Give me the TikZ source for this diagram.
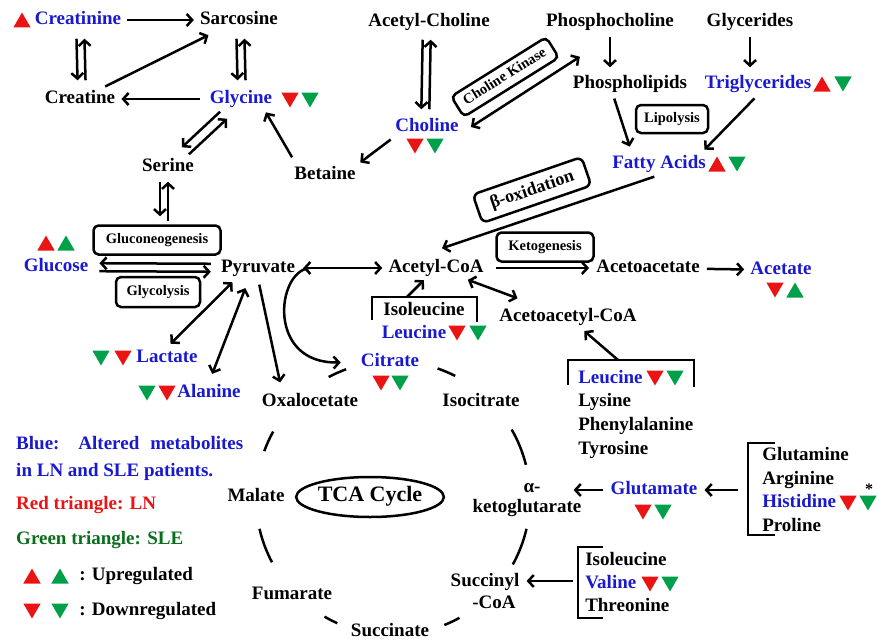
\documentclass[tikz,border=0pt]{standalone}
\usepackage{fontspec}
\setmainfont{Liberation Serif}
\usepackage{tikz}
\usetikzlibrary{arrows.meta, shapes.geometric, calc}
\definecolor{metblue}{RGB}{25,25,205}
\definecolor{trired}{RGB}{235,20,20}
\definecolor{trigreen}{RGB}{0,160,75}
\definecolor{txtgreen}{RGB}{10,110,30}
\tikzset{offs/.style={transform canvas={shift={#1}}}}

\begin{document}
\begin{tikzpicture}[x=1pt, y=1pt, line width=2.5pt, >={Straight Barb[length=5.5pt,width=12pt]}]
\tikzstyle{every node}=[font=\bfseries\fontsize{19}{22}\selectfont, inner sep=1pt, text height=13pt, text depth=4pt]
\tikzstyle{met}=[text=metblue]
\tikzstyle{enz}=[draw, rounded corners=5pt, font=\bfseries\fontsize{14.5}{16}\selectfont, text height=10pt, text depth=3pt, inner sep=2pt]
\tikzstyle{tri}=[regular polygon, regular polygon sides=3, draw=none, minimum size=20pt, inner sep=0pt, text height=0pt, text depth=0pt]
\tikzstyle{upr}=[tri, fill=trired]
\tikzstyle{dnr}=[tri, fill=trired, shape border rotate=180]
\tikzstyle{upg}=[tri, fill=trigreen]
\tikzstyle{dng}=[tri, fill=trigreen, shape border rotate=180]
\tikzstyle{conn}=[->, shorten <=4pt, shorten >=4pt]
\tikzstyle{pair}=[->, shorten <=8pt, shorten >=8pt]
\useasboundingbox (0,0) rectangle (878,-642);

% top: creatinine, glycine, choline
\node[met] (crn) at (78,-20) {Creatinine};
\node[upr] (crnR) at (22,-22.5) {};
\node (sar) at (239,-20) {Sarcosine};
\node (cre) at (80,-99) {Creatine};
\node[met] (gly) at (241,-99) {Glycine};
\node[dnr] (glyR) at (290,-97.5) {};
\node[dng] (glyG) at (310,-97.5) {};
\node (ser) at (168,-167) {Serine};
\node (bet) at (325,-175) {Betaine};
\node (ach) at (429,-22) {Acetyl-Choline};
\node[met] (cho) at (427,-127) {Choline};
\node[dnr] (choR) at (415,-143.5) {};
\node[dng] (choG) at (435,-143.5) {};
\node[enz, rotate=32, minimum width=112pt, minimum height=24pt] (ck) at (505,-77) {Choline Kinase};

% lipids
\node (pch) at (610,-22) {Phosphocholine};
\node (glyd) at (750,-22) {Glycerides};
\node (phl) at (630,-84) {Phospholipids};
\node[met] (tgl) at (758,-84) {Triglycerides};
\node[upr] (tglR) at (822,-86.5) {};
\node[dng] (tglG) at (843,-81.5) {};
\node[enz, minimum width=72pt, minimum height=28pt] (lip) at (672,-119) {Lipolysis};
\node[met] (fa) at (659,-164) {Fatty Acids};
\node[upr] (faR) at (717,-166.5) {};
\node[dng] (faG) at (737,-161.5) {};
\node[enz, rotate=19, font=\bfseries\fontsize{18}{20}\selectfont, text height=13pt, minimum width=115pt, minimum height=30pt, rounded corners=6pt] (box) at (532,-190) {β-oxidation};

% glycolysis row
\node[enz, minimum width=127pt, minimum height=29pt] (gng) at (157,-240) {Gluconeogenesis};
\node[enz, minimum width=84pt, minimum height=30pt] (glyco) at (158,-292) {Glycolysis};
\node[met] (glc) at (56,-267) {Glucose};
\node[upr] (glcR) at (46,-245.5) {};
\node[upg] (glcG) at (66,-245.5) {};
\node (pyr) at (258,-268) {Pyruvate};
\node (acoa) at (436,-268) {Acetyl-CoA};
\node[enz, minimum width=97pt, minimum height=29pt] (keto) at (545,-247) {Ketogenesis};
\node (aca) at (648,-268) {Acetoacetate};
\node[met] (act) at (781,-270) {Acetate};
\node[dnr] (actR) at (775,-287.5) {};
\node[upg] (actG) at (795,-292.5) {};

% amino acids into acetyl-CoA
\node (ile1) at (424,-311) {Isoleucine};
\node[met] (leu1) at (414,-334) {Leucine};
\node[dnr] (leu1R) at (457,-330.5) {};
\node[dng] (leu1G) at (478,-330.5) {};
\node (aacoa) at (568,-317) {Acetoacetyl-CoA};
\node[met, anchor=west] (leu2) at (576,-379) {Leucine};
\node[dnr] (leu2R) at (655,-375.5) {};
\node[dng] (leu2G) at (675,-375.5) {};
\node[anchor=west] (lys) at (576,-402) {Lysine};
\node[anchor=west] (phe) at (576,-426) {Phenylalanine};
\node[anchor=west] (tyr) at (576,-450) {Tyrosine};

% lactate, alanine
\node[met] (lac) at (167,-358) {Lactate};
\node[dng] (lacG) at (101,-355.5) {};
\node[dnr] (lacR) at (123,-355.5) {};
\node[met] (ala) at (209,-393) {Alanine};
\node[dng] (alaG) at (147,-390.5) {};
\node[dnr] (alaR) at (167,-390.5) {};

% TCA cycle
\node (oxa) at (310,-402) {Oxalocetate};
\node[met] (cit) at (390,-362) {Citrate};
\node[dnr] (citR) at (381,-380.5) {};
\node[dng] (citG) at (400,-380.5) {};
\node (icit) at (481,-402) {Isocitrate};
\node (akg1) at (532,-488) {α-};
\node (akg2) at (527,-508) {ketoglutarate};
\node (suc1) at (485,-582) {Succinyl};
\node (suc2) at (494,-604) {-CoA};
\node (scn) at (390,-632) {Succinate};
\node (fum) at (292,-595) {Fumarate};
\node (mal) at (256,-497) {Malate};
\node[ellipse, draw, minimum width=126pt, minimum height=40pt, inner sep=0pt, font=\bfseries\fontsize{22}{24}\selectfont] (tcan) at (370,-497) {TCA Cycle};
\coordinate (tca) at (393,-498);
\foreach \a/\b in {118/110, 71/63, 30/14, -13/-29, -68/-61, -120/-114, -167/-152, 160/151}
  \draw (tca) ++(\a:137) arc[start angle=\a, end angle=\b, radius=137];

% right side amino acids
\node[met] (glu) at (654,-490) {Glutamate};
\node[dnr] (gluR) at (643,-509.5) {};
\node[dng] (gluG) at (663,-509.5) {};
\node[anchor=west] (gln) at (760,-456) {Glutamine};
\node[anchor=west] (arg) at (760,-480) {Arginine};
\node[met, anchor=west] (his) at (760,-503) {Histidine};
\node[dnr] (hisR) at (848,-500.5) {};
\node[dng] (hisG) at (868,-500.5) {};
\node[font=\bfseries\fontsize{16}{18}\selectfont, text height=0pt, text depth=0pt] (ast) at (869,-494) {*};
\node[anchor=west] (pro) at (760,-527) {Proline};
\node[anchor=west] (ile2) at (583,-561) {Isoleucine};
\node[met, anchor=west] (val) at (583,-584) {Valine};
\node[dnr] (valR) at (650,-581.5) {};
\node[dng] (valG) at (670,-581.5) {};
\node[anchor=west] (thr) at (583,-607) {Threonine};

% brackets
\coordinate (b1) at (407,-297);
\coordinate (b2) at (618,-360);
\coordinate (b3) at (748,-490);
\coordinate (b4) at (578,-581);
\draw (372,-320) |- (477,-297) -- (477,-322);
\draw (568,-385) |- (694,-360) -- (694,-387);
\draw (775,-443) -| (748,-535) -- (775,-535);
\draw (603,-547) -| (578,-618) -- (603,-618);

% legend
\node[met, anchor=west] (lg1) at (14,-445) {\makebox[227pt][s]{Blue: Altered metabolites}};
\node[met, anchor=west] (lg2) at (14,-472) {in LN and SLE patients.};
\node[text=trired, anchor=west] (lg3) at (14,-505) {Red triangle: LN};
\node[text=txtgreen, anchor=west] (lg4) at (14,-540) {Green triangle: SLE};
\node[upr] (lgUR) at (32,-578.5) {};
\node[upg] (lgUG) at (60,-578.5) {};
\node[anchor=west] (lg5) at (77,-576) {: Upregulated};
\node[dnr] (lgDR) at (32,-608.5) {};
\node[dng] (lgDG) at (60,-608.5) {};
\node[anchor=west] (lg6) at (77,-611) {: Downregulated};

% connectors
\draw[conn] (crn) -- (sar);
\draw[pair, offs={(-2,0)}] (crn) -- (cre);
\draw[pair, offs={(6,0)}] (cre) -- (crn);
\draw[pair, offs={(-3,0)}] (sar) -- (gly);
\draw[pair, offs={(5,0)}] (gly) -- (sar);
\draw[conn, shorten <=8pt] (gly) -- (cre);
\draw[conn, shorten >=10pt] (cre) -- (sar);
\draw[pair, offs={(-3.5,3.5)}] (gly) -- (ser);
\draw[pair, offs={(3.5,-3.5)}] (ser) -- (gly);
\draw[conn, shorten <=8pt, shorten >=3pt] ([xshift=4pt]bet.north west) -- ([xshift=-10pt]gly.south east);
\draw[conn, offs={(-8,0)}, shorten >=8pt] (ser.south) -- (ser.south |- gng.north);
\draw[conn, shorten <=3pt] (ser.south |- gng.north) -- (ser.south);
\draw[pair, shorten <=7pt, shorten >=7pt, offs={(-6,0)}] (ach) -- (cho);
\draw[pair, shorten <=7pt, shorten >=7pt, offs={(2,0)}] (cho) -- (ach);
\draw[conn, shorten <=3pt, shorten >=3pt] (cho.south west) -- (bet.north east);
\draw[<->] ([xshift=10pt]cho.east) -- ([xshift=36pt,yshift=-24pt]pch.south west);
\draw[conn, shorten <=4pt, shorten >=6pt] (pch.south) -- (pch.south |- phl.north);
\draw[conn, shorten <=4pt, shorten >=6pt] (glyd.south) -- (glyd.south |- tgl.north);
\draw[conn, shorten >=7pt] ([xshift=-17pt]phl.south) -- ([xshift=-27pt]fa.north);
\draw[conn, shorten <=5pt, shorten >=5pt] (tgl.south) -- ([xshift=42pt]fa.north);
\draw[conn, shorten <=6pt, shorten >=0pt] ([xshift=1pt]fa.south) -- ([xshift=6pt,yshift=9pt]acoa.north);
\draw[conn, offs={(0,4)}, shorten <=8pt, shorten >=9pt] (pyr) -- (glc);
\draw[conn, offs={(0,-4)}, shorten <=9pt, shorten >=8pt] (glc) -- (pyr);
\draw[<->, shorten <=6pt, shorten >=4pt] (pyr) -- (acoa);
\draw[conn, shorten <=10pt, shorten >=5pt] (acoa) -- (aca);
\draw[conn, shorten <=5pt, shorten >=4pt] (aca) -- (act);
\draw[conn, shorten <=0pt, shorten >=2pt] (b1) -- (acoa);
\draw[<->, shorten <=3pt, shorten >=23pt] (acoa) -- (aacoa);
\draw[conn, shorten <=0pt, shorten >=5pt] (b2) -- (aacoa);
\draw[<->, shorten <=5pt, shorten >=5pt] ([xshift=-22pt]pyr.south) -- (lac.north);
\draw[<->, shorten <=10pt, shorten >=9pt] ([xshift=-9pt]pyr.south) -- (ala.north);
\draw[conn, shorten <=6pt, shorten >=9pt] (pyr.south) -- ([xshift=-28pt]oxa.north);
\draw[->, shorten >=18pt] ([xshift=12pt]pyr.east) .. controls +(-33,-4) and +(-92,-2) .. (cit.west);
\draw[conn, shorten <=5pt, shorten >=0pt] (glu) -- ([xshift=-10pt]akg2.east |- glu);
\draw[conn, shorten <=10pt, shorten >=5pt] (b3) -- (glu);
\draw[conn, shorten <=5pt, shorten >=5pt] (b4) -- (b4 -| suc1.east);

\end{tikzpicture}
\end{document}
